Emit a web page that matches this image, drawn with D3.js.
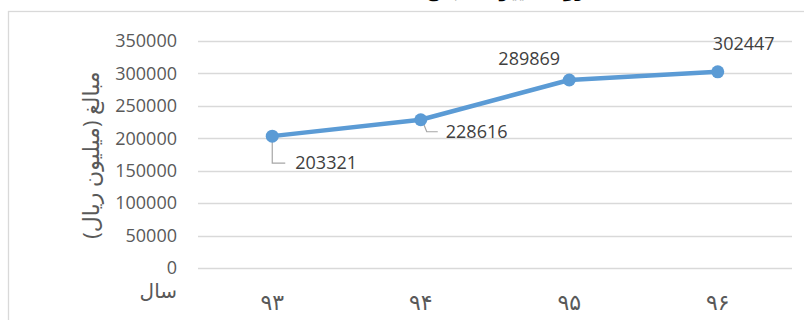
<!DOCTYPE html>
<html><head><meta charset="utf-8">
<script src="https://cdn.jsdelivr.net/npm/d3@7"></script>
<style>body{margin:0;background:#fff;overflow:hidden}</style>
</head><body>
<svg id="c" width="804" height="320"></svg>
<script>
const categories = ["۹۳", "۹۴", "۹۵", "۹۶"];
const values = [203321, 228616, 289869, 302447];
const yTicks = [0, 50000, 100000, 150000, 200000, 250000, 300000, 350000];
const titleText = "روند تغییرات مبالغ طی سال‌های ۹۳ تا ۹۶";
const yTitle = "مبالغ (میلیون ریال)";
const xTitle = "سال";

const svg = d3.select("#c");
const font = "'Open Sans','DejaVu Sans',sans-serif";
const x = d3.scaleBand().domain(categories).range([198, 792]);
const y = d3.scaleLinear().domain([0, 350000]).range([268, 41]);

// chart border
svg.append("rect").attr("x", 8.5).attr("y", 11.5).attr("width", 820).attr("height", 400)
  .attr("fill", "none").attr("stroke", "#d9d9d9").attr("stroke-width", 1.3);

// title (mostly cut off at the top edge, as in the reference)
svg.append("text").attr("x", 410).attr("y", -3).attr("text-anchor", "middle")
  .attr("direction", "rtl").attr("font-family", font).attr("font-weight", "bold")
  .attr("font-size", 18).attr("fill", "#000").text(titleText);

// gridlines
svg.append("g").selectAll("line").data(yTicks).join("line")
  .attr("x1", 198).attr("x2", 792)
  .attr("y1", d => Math.round(y(d)) + 0.5).attr("y2", d => Math.round(y(d)) + 0.5)
  .attr("stroke", "#d9d9d9").attr("stroke-width", 1.3);

// y axis
const yAxis = svg.append("g").attr("transform", "translate(198,0)")
  .call(d3.axisLeft(y).tickValues(yTicks).tickSize(0).tickPadding(21).tickFormat(d3.format("d")));
yAxis.select(".domain").remove();
yAxis.selectAll("text").attr("font-family", font).attr("font-size", 18).attr("fill", "#595959");

// x axis labels
const xAxis = svg.append("g").attr("transform", "translate(0,294)")
  .call(d3.axisBottom(x).tickSize(0).tickPadding(0));
xAxis.select(".domain").remove();
xAxis.selectAll("text").attr("font-family", font).attr("font-size", 22).attr("fill", "#595959");

// axis titles
svg.append("text").attr("transform", "translate(99,155) rotate(-90)")
  .attr("text-anchor", "middle").attr("direction", "rtl")
  .attr("font-family", font).attr("font-size", 22).attr("fill", "#595959").text(yTitle);
svg.append("text").attr("x", 177).attr("y", 298).attr("text-anchor", "start")
  .attr("direction", "rtl").attr("font-family", font).attr("font-size", 20)
  .attr("fill", "#595959").text(xTitle);

// line
const cx = d => x(d) + x.bandwidth() / 2;
const pts = categories.map((c, i) => [cx(c), y(values[i])]);
svg.append("path").attr("d", d3.line()(pts)).attr("fill", "none")
  .attr("stroke", "#5b9bd5").attr("stroke-width", 4.5).attr("stroke-linejoin", "round");

// leader lines
const leaders = [
  [[pts[0][0], pts[0][1]], [pts[0][0], pts[0][1] + 27], [pts[0][0] + 13, pts[0][1] + 27]],
  [[pts[1][0] + 2, pts[1][1] + 2], [pts[1][0] + 6, pts[1][1] + 12], [pts[1][0] + 17, pts[1][1] + 12]]
];
svg.append("g").selectAll("path").data(leaders).join("path")
  .attr("d", d => d3.line()(d)).attr("fill", "none").attr("stroke", "#a6a6a6").attr("stroke-width", 1.2);

svg.append("g").selectAll("circle").data(pts).join("circle")
  .attr("cx", d => d[0]).attr("cy", d => d[1]).attr("r", 6.5).attr("fill", "#5b9bd5");

// data labels
const offs = [[23, 33], [25, 18], [-40, -15], [26, -22]];
svg.append("g").selectAll("text").data(pts).join("text")
  .attr("x", (d, i) => d[0] + offs[i][0]).attr("y", (d, i) => d[1] + offs[i][1])
  .attr("text-anchor", (d, i) => i < 2 ? "start" : "middle")
  .attr("font-family", font).attr("font-size", 18).attr("fill", "#404040")
  .text((d, i) => values[i]);
</script>
</body></html>
